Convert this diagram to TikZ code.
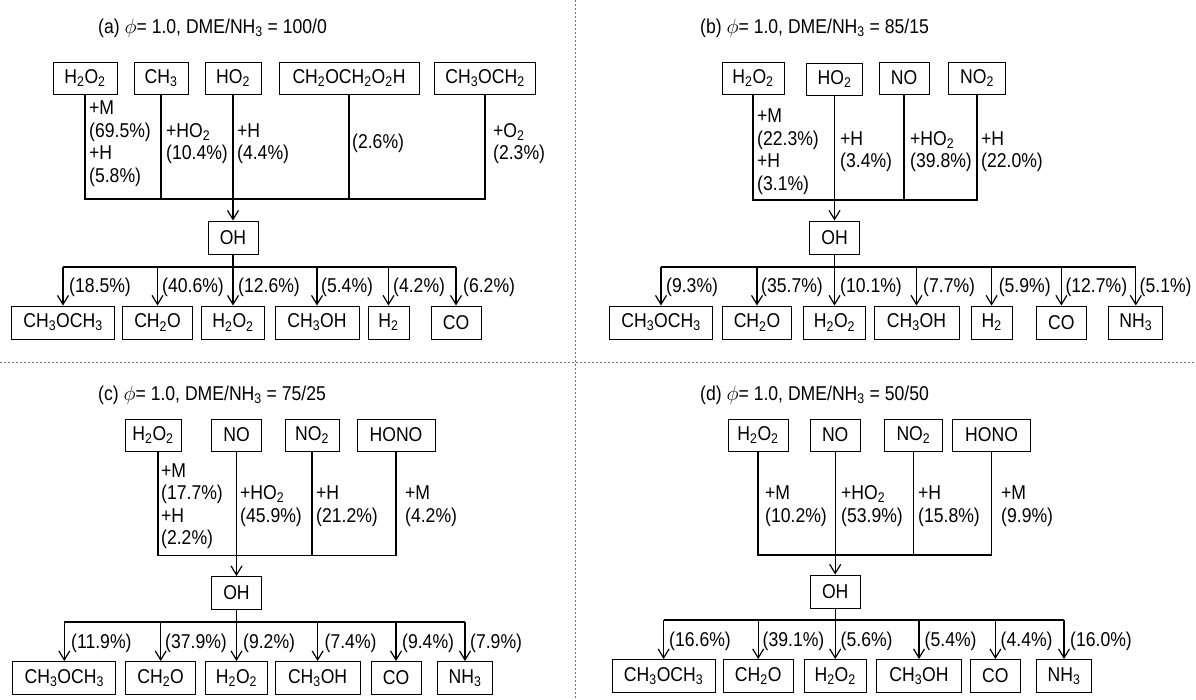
\documentclass[tikz,border=0pt]{standalone}
\usepackage{fontspec}
\setmainfont{Liberation Sans}[FakeStretch=0.88]
\usetikzlibrary{arrows.meta}
\begin{document}
\begin{tikzpicture}[x=1pt,y=-1pt,font=\fontsize{20}{22.5}\selectfont,
  box/.style={draw, line width=1pt, minimum height=32pt, inner sep=0pt},
  lab/.style={anchor=west, inner sep=0pt, align=left},
  ttl/.style={anchor=west, inner sep=0pt},
  conn/.style={line width=1.2pt},
  arr/.style={line width=1.2pt, -{Straight Barb[length=9pt,width=11pt]}},
  sepline/.style={black!55, line width=1pt, dash pattern=on 2pt off 2pt}]
\useasboundingbox (0,0) rectangle (1196,699);
% separators
\coordinate (sTop) at (575,0); \coordinate (sBot) at (575,699);
\coordinate (sL) at (0,362); \coordinate (sR) at (1196,362);
\draw[sepline] (sTop) -- (sBot);
\draw[sepline] (sL) -- (sR);

% ================= (a) =================
\node[ttl] (aTitle) at (98,28) {(a) $\phi$= 1.0, DME/NH\textsubscript{3} = 100/0};
\node[box, minimum width=64pt] (aT1) at (85,78) {H\textsubscript{2}O\textsubscript{2}};
\node[box, minimum width=54pt] (aT2) at (161,78) {CH\textsubscript{3}};
\node[box, minimum width=56pt] (aT3) at (233,78) {HO\textsubscript{2}};
\node[box, minimum width=140pt] (aT4) at (349,78) {CH\textsubscript{2}OCH\textsubscript{2}O\textsubscript{2}H};
\node[box, minimum width=101pt] (aT5) at (485,78) {CH\textsubscript{3}OCH\textsubscript{2}};
\coordinate (aBus) at (0,199);
\node[box, minimum width=50pt, minimum height=33pt] (aOH) at (233,237.5) {OH};
\draw[conn] (aT1.south) -- (aT1.south |- aBus) -- (aT5.south |- aBus) -- (aT5.south);
\draw[conn] (aT2.south) -- (aT2.south |- aBus);
\draw[conn] (aT4.south) -- (aT4.south |- aBus);
\draw[arr] (aT3.south) -- (aOH.north);
\node[lab] (aL1) at (89,143.5) {+M\\(69.5\%)\\+H\\(5.8\%)};
\node[lab] (aL2) at (166,143.5) {+HO\textsubscript{2}\\(10.4\%)};
\node[lab] (aL3) at (237,143.5) {+H\\(4.4\%)};
\node[lab] (aL4) at (352,143.5) {(2.6\%)};
\node[lab] (aL5) at (493,143.5) {+O\textsubscript{2}\\(2.3\%)};
\coordinate (aDist) at (0,267);
\node[box, minimum width=103pt, minimum height=33pt] (aB1) at (63,322.5) {CH\textsubscript{3}OCH\textsubscript{3}};
\node[box, minimum width=70pt, minimum height=33pt] (aB2) at (157.5,322.5) {CH\textsubscript{2}O};
\node[box, minimum width=63pt, minimum height=33pt] (aB3) at (233,322.5) {H\textsubscript{2}O\textsubscript{2}};
\node[box, minimum width=84pt, minimum height=33pt] (aB4) at (317,322.5) {CH\textsubscript{3}OH};
\node[box, minimum width=41pt, minimum height=33pt] (aB5) at (388.5,322.5) {H\textsubscript{2}};
\node[box, minimum width=50pt, minimum height=33pt] (aB6) at (456,322.5) {CO};
\draw[conn] (aOH.south) -- (aOH.south |- aDist);
\draw[conn] (aB1.north |- aDist) -- (aB6.north |- aDist);
\foreach \b in {aB1,aB2,aB3,aB4,aB5,aB6} \draw[arr] (\b.north |- aDist) -- (\b.north);
\node[lab] (aP1) at (69,287) {(18.5\%)};
\node[lab] (aP2) at (162,287) {(40.6\%)};
\node[lab] (aP3) at (238,287) {(12.6\%)};
\node[lab] (aP4) at (321,287) {(5.4\%)};
\node[lab] (aP5) at (393,287) {(4.2\%)};
\node[lab] (aP6) at (463,287) {(6.2\%)};

% ================= (b) =================
\node[ttl] (bTitle) at (700,28) {(b) $\phi$= 1.0, DME/NH\textsubscript{3} = 85/15};
\node[box, minimum width=62pt] (bT1) at (753,78) {H\textsubscript{2}O\textsubscript{2}};
\node[box, minimum width=56pt] (bT2) at (834.5,79) {HO\textsubscript{2}};
\node[box, minimum width=50pt] (bT3) at (904,78) {NO};
\node[box, minimum width=57pt] (bT4) at (977,78) {NO\textsubscript{2}};
\coordinate (bBus) at (0,200);
\node[box, minimum width=50pt, minimum height=33pt] (bOH) at (834.5,237.5) {OH};
\draw[conn] (bT1.south) -- (bT1.south |- bBus) -- (bT4.south |- bBus) -- (bT4.south);
\draw[conn] (bT3.south) -- (bT3.south |- bBus);
\draw[arr] (bT2.south) -- (bOH.north);
\node[lab] (bL1) at (757,151.5) {+M\\(22.3\%)\\+H\\(3.1\%)};
\node[lab] (bL2) at (840,151.5) {+H\\(3.4\%)};
\node[lab] (bL3) at (910,151.5) {+HO\textsubscript{2}\\(39.8\%)};
\node[lab] (bL4) at (981,151.5) {+H\\(22.0\%)};
\coordinate (bDist) at (0,267);
\node[box, minimum width=103pt, minimum height=33pt] (bB1) at (661,322.5) {CH\textsubscript{3}OCH\textsubscript{3}};
\node[box, minimum width=69pt, minimum height=33pt] (bB2) at (757,322.5) {CH\textsubscript{2}O};
\node[box, minimum width=62pt, minimum height=33pt] (bB3) at (834.5,322.5) {H\textsubscript{2}O\textsubscript{2}};
\node[box, minimum width=85pt, minimum height=33pt] (bB4) at (916.5,322.5) {CH\textsubscript{3}OH};
\node[box, minimum width=41pt, minimum height=33pt] (bB5) at (991.6,322.5) {H\textsubscript{2}};
\node[box, minimum width=50pt, minimum height=33pt] (bB6) at (1061.4,322.5) {CO};
\node[box, minimum width=54pt, minimum height=33pt] (bB7) at (1135.8,322.5) {NH\textsubscript{3}};
\draw[conn] (bOH.south) -- (bOH.south |- bDist);
\draw[conn] (bB1.north |- bDist) -- (bB7.north |- bDist);
\foreach \b in {bB1,bB2,bB3,bB4,bB5,bB6,bB7} \draw[arr] (\b.north |- bDist) -- (\b.north);
\node[lab] (bP1) at (666,287) {(9.3\%)};
\node[lab] (bP2) at (761,287) {(35.7\%)};
\node[lab] (bP3) at (840,287) {(10.1\%)};
\node[lab] (bP4) at (923,287) {(7.7\%)};
\node[lab] (bP5) at (998.6,287) {(5.9\%)};
\node[lab] (bP6) at (1065.3,287) {(12.7\%)};
\node[lab] (bP7) at (1139.5,287) {(5.1\%)};

% ================= (c) =================
\node[ttl] (cTitle) at (98,395) {(c) $\phi$= 1.0, DME/NH\textsubscript{3} = 75/25};
\node[box, minimum width=56pt] (cT1) at (153,435) {H\textsubscript{2}O\textsubscript{2}};
\node[box, minimum width=50pt] (cT2) at (236.5,435) {NO};
\node[box, minimum width=54pt] (cT3) at (312,435) {NO\textsubscript{2}};
\node[box, minimum width=78pt] (cT4) at (396,435) {HONO};
\coordinate (cBus) at (0,555.5);
\coordinate (cT1s) at ([xshift=5pt]cT1.south);
\node[box, minimum width=50pt, minimum height=33pt] (cOH) at (236.5,593) {OH};
\draw[conn] (cT1s) -- (cT1s |- cBus) -- (cT4.south |- cBus) -- (cT4.south);
\draw[conn] (cT3.south) -- (cT3.south |- cBus);
\draw[arr] (cT2.south) -- (cOH.north);
\node[lab] (cL1) at (161,506) {+M\\(17.7\%)\\+H\\(2.2\%)};
\node[lab] (cL2) at (240,506) {+HO\textsubscript{2}\\(45.9\%)};
\node[lab] (cL3) at (316,506) {+H\\(21.2\%)};
\node[lab] (cL4) at (405,506) {+M\\(4.2\%)};
\coordinate (cDist) at (0,622);
\node[box, minimum width=103pt, minimum height=33pt] (cB1) at (64.3,678) {CH\textsubscript{3}OCH\textsubscript{3}};
\node[box, minimum width=70pt, minimum height=33pt] (cB2) at (160.7,678) {CH\textsubscript{2}O};
\node[box, minimum width=62pt, minimum height=33pt] (cB3) at (236.5,678) {H\textsubscript{2}O\textsubscript{2}};
\node[box, minimum width=85pt, minimum height=33pt] (cB4) at (317.6,678) {CH\textsubscript{3}OH};
\node[box, minimum width=50pt, minimum height=33pt] (cB5) at (396,678) {CO};
\node[box, minimum width=55pt, minimum height=33pt] (cB6) at (465,678) {NH\textsubscript{3}};
\draw[conn] (cOH.south) -- (cOH.south |- cDist);
\draw[conn] (cB1.north |- cDist) -- (cB6.north |- cDist);
\foreach \b in {cB1,cB2,cB3,cB4,cB5,cB6} \draw[arr] (\b.north |- cDist) -- (\b.north);
\node[lab] (cP1) at (71,643) {(11.9\%)};
\node[lab] (cP2) at (165,643) {(37.9\%)};
\node[lab] (cP3) at (243,643) {(9.2\%)};
\node[lab] (cP4) at (324.5,643) {(7.4\%)};
\node[lab] (cP5) at (402,643) {(9.4\%)};
\node[lab] (cP6) at (470,643) {(7.9\%)};

% ================= (d) =================
\node[ttl] (dTitle) at (700,395) {(d) $\phi$= 1.0, DME/NH\textsubscript{3} = 50/50};
\node[box, minimum width=60pt] (dT1) at (758,435) {H\textsubscript{2}O\textsubscript{2}};
\node[box, minimum width=50pt] (dT2) at (835.2,435) {NO};
\node[box, minimum width=58pt] (dT3) at (913.4,435) {NO\textsubscript{2}};
\node[box, minimum width=78pt] (dT4) at (991.6,435) {HONO};
\coordinate (dBus) at (0,555);
\node[box, minimum width=50pt, minimum height=33pt] (dOH) at (835.2,591.5) {OH};
\draw[conn] (dT1.south) -- (dT1.south |- dBus) -- (dT4.south |- dBus) -- (dT4.south);
\draw[conn] (dT3.south) -- (dT3.south |- dBus);
\draw[arr] (dT2.south) -- (dOH.north);
\node[lab] (dL1) at (765,506) {+M\\(10.2\%)};
\node[lab] (dL2) at (841,506) {+HO\textsubscript{2}\\(53.9\%)};
\node[lab] (dL3) at (918,506) {+H\\(15.8\%)};
\node[lab] (dL4) at (1001,506) {+M\\(9.9\%)};
\coordinate (dDist) at (0,620);
\node[box, minimum width=103pt, minimum height=33pt] (dB1) at (663.6,676) {CH\textsubscript{3}OCH\textsubscript{3}};
\node[box, minimum width=70pt, minimum height=33pt] (dB2) at (758.2,676) {CH\textsubscript{2}O};
\node[box, minimum width=62pt, minimum height=33pt] (dB3) at (835.2,676) {H\textsubscript{2}O\textsubscript{2}};
\node[box, minimum width=85pt, minimum height=33pt] (dB4) at (919,676) {CH\textsubscript{3}OH};
\node[box, minimum width=50pt, minimum height=33pt] (dB5) at (995.4,676) {CO};
\node[box, minimum width=55pt, minimum height=33pt] (dB6) at (1064,676) {NH\textsubscript{3}};
\draw[conn] (dOH.south) -- (dOH.south |- dDist);
\draw[conn] (dB1.north |- dDist) -- (dB6.north |- dDist);
\foreach \b in {dB1,dB2,dB3,dB4,dB5,dB6} \draw[arr] (\b.north |- dDist) -- (\b.north);
\node[lab] (dP1) at (669,641) {(16.6\%)};
\node[lab] (dP2) at (762.5,641) {(39.1\%)};
\node[lab] (dP3) at (840.5,641) {(5.6\%)};
\node[lab] (dP4) at (924.5,641) {(5.4\%)};
\node[lab] (dP5) at (1000.5,641) {(4.4\%)};
\node[lab] (dP6) at (1070,641) {(16.0\%)};
\end{tikzpicture}
\end{document}
